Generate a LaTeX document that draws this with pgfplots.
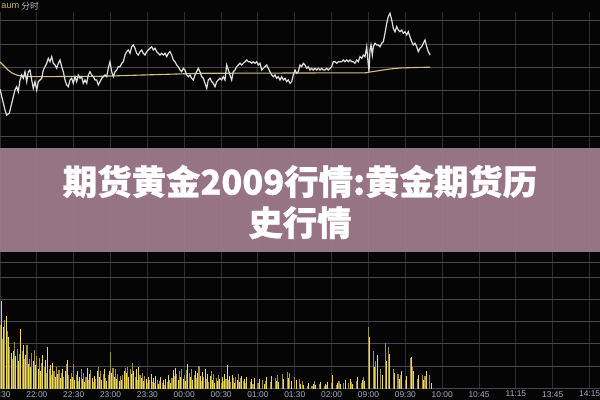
\documentclass[border=0pt]{standalone}
\usepackage{fontspec}
\usepackage{pgfplots}
\usepackage{pgfplotstable}
\pgfplotsset{compat=1.18}
\newfontfamily\cjk{Noto Sans CJK SC}[BoldFeatures={FakeBold=0.8}]
\newfontfamily\lab{Liberation Sans}

\definecolor{bg}{HTML}{050505}
\definecolor{vgrid}{HTML}{2E2E34}
\definecolor{hgrid}{HTML}{46464E}
\definecolor{pricec}{HTML}{E0E0E0}
\definecolor{avgc}{HTML}{CFC184}
\definecolor{bardark}{HTML}{A08F3E}
\definecolor{barlight}{HTML}{EDD95A}
\definecolor{banner}{HTML}{A27D8E}
\definecolor{labc}{HTML}{A3ADC0}
\definecolor{aumc}{HTML}{C9B25E}

% volume per minute, 21:30 onwards (pixel height of each bar)
\pgfplotstableread[row sep=\\, header=false]{
64\\88\\50\\62\\69\\73\\58\\52\\42\\36\\
30\\38\\47\\33\\40\\28\\35\\60\\38\\44\\
30\\34\\44\\25\\30\\22\\36\\28\\39\\24\\
33\\20\\31\\18\\26\\34\\22\\29\\16\\42\\
20\\24\\14\\26\\18\\12\\22\\15\\19\\11\\
16\\20\\12\\18\\25\\29\\14\\10\\16\\12\\
25\\9\\14\\18\\8\\12\\20\\10\\16\\7\\
12\\21\\9\\15\\19\\11\\7\\13\\10\\18\\
22\\12\\18\\9\\15\\20\\11\\8\\14\\18\\
37\\16\\21\\12\\20\\10\\15\\8\\13\\9\\
14\\18\\21\\16\\22\\12\\20\\15\\26\\18\\
12\\20\\9\\22\\14\\11\\16\\8\\13\\10\\
6\\12\\9\\15\\7\\11\\6\\13\\9\\5\\
8\\12\\6\\9\\4\\10\\7\\14\\9\\6\\
11\\19\\13\\21\\15\\9\\18\\12\\20\\10\\
14\\8\\19\\25\\16\\12\\20\\9\\14\\18\\
11\\16\\23\\13\\8\\17\\12\\20\\10\\15\\
7\\13\\18\\9\\15\\6\\11\\8\\14\\10\\
6\\12\\8\\15\\10\\24\\9\\13\\7\\14\\
11\\6\\12\\9\\15\\7\\11\\13\\8\\10\\
6\\12\\9\\14\\7\\10\\5\\11\\8\\13\\
6\\10\\7\\14\\9\\5\\8\\12\\6\\10\\
7\\13\\9\\5\\11\\8\\14\\7\\12\\9\\
15\\10\\6\\13\\17\\11\\16\\8\\19\\30\\
12\\9\\14\\6\\10\\5\\8\\4\\7\\5\\
3\\6\\4\\7\\3\\5\\8\\4\\6\\3\\
5\\7\\4\\6\\3\\5\\4\\7\\5\\8\\
6\\14\\5\\7\\4\\6\\8\\5\\7\\4\\
6\\9\\5\\8\\6\\10\\7\\5\\9\\6\\
8\\12\\7\\10\\6\\9\\12\\8\\13\\115\\
62\\52\\46\\32\\38\\22\\28\\34\\18\\25\\
20\\14\\22\\30\\46\\28\\42\\35\\32\\24\\
20\\16\\21\\12\\15\\10\\14\\18\\11\\15\\
9\\13\\22\\28\\31\\32\\22\\18\\12\\16\\
10\\14\\8\\12\\14\\9\\13\\18\\16\\10\\
14\\6\\
}\vol

\pgfplotsset{
    chartgrid/.style={
        scale only axis,
        width=300pt,
        xmin=0, xmax=600,
        axis line style={draw=none},
        tick style={draw=none},
        major tick length=0pt,
        grid=major,
        x grid style={vgrid, line width=0.5pt},
        y grid style={hgrid, line width=0.5pt},
        xtick={0,36.85,...,590},
    },
}

\begin{document}
\begin{tikzpicture}[x=0.5pt, y=-0.5pt]
    \fill[bg] (0,0) rectangle (600,400);

    % price panel (pixel rows 12 to 148)
    \begin{axis}[
            chartgrid,
            at={(0pt,-74pt)}, anchor=south west,
            height=68pt,
            ymin=12, ymax=148, y dir=reverse,
            ytick={21,44.2,67.4,90.6,113.8,137},
            xticklabels={}, yticklabels={},
        ]
        \addplot [avgc, line width=0.55pt] table {%
                0 62
                4 66
                8 70
                12 73
                18 75.5
                30 76.7
                100 76.3
                200 73.3
                300 73
                366 72.8
                370 72
                380 70.5
                390 69
                400 68
                415 67.5
                430 67.2
            };
        \addplot [pricec, line width=0.6pt] table {%
                0 89.3
                5 110
                6.7 115
                9.3 113.3
                11.7 103.3
                15 90
                16.7 86.7
                18.3 91.7
                20 80
                21.7 75
                23.3 78.3
                25 71.7
                26.7 81.7
                28.3 71.7
                30 70
                31.7 80
                33.3 88.3
                35 81.7
                36.7 90
                38.3 81.7
                40 80
                41.7 78.3
                43.3 70
                45 66.7
                46.7 63.3
                48.3 58.3
                50 61.7
                51.7 56.7
                53.3 63.3
                55 65
                56.7 68.3
                58.3 63.3
                60 60
                61.7 66.7
                63.3 71.7
                65 80
                66.7 85
                68.3 86.7
                70 80
                71.7 78.3
                73.3 83.3
                75 76.7
                76.7 81.7
                78.3 75
                80 78.3
                81.7 76.7
                83.3 83.3
                85 80
                86.7 83.3
                88.3 75
                90 71.7
                91.7 75
                93.3 76.7
                95 80
                96.7 80
                98.3 85
                100 81.7
                101.7 78.3
                103.3 76.7
                105 75
                106.7 76.7
                108.3 68.3
                110 61.7
                111.7 71.7
                113.3 76.7
                115 71.7
                116.7 70
                118.3 66.7
                120 66.7
                121.7 63.3
                123.3 61.7
                125 55
                126.7 51.7
                128.3 50
                130 53.3
                131.7 46.7
                133.3 45
                135 48.3
                136.7 53.3
                138.3 55
                140 51.7
                141.7 50
                143.3 53.3
                145 55
                146.7 51.7
                148.3 50
                150 48.3
                151.7 46.7
                153.3 50
                155 48.3
                156.7 51.7
                158.3 53.3
                160 55
                161.7 53.3
                163.3 55
                165 53.3
                166.7 56.7
                168.3 53.3
                170 51.7
                171.7 55
                173.3 60
                175 61.7
                176.7 65
                178.3 66.7
                180 70
                181.7 71.7
                183.3 68.3
                185 70
                186.7 75
                188.3 76.7
                190 75
                191.7 78.3
                193.3 80
                195 75
                196.7 71.7
                198.3 68.3
                200 71.7
                201.7 76.7
                203.3 78.3
                205 83.3
                206.7 88.3
                208.3 80
                210 78.3
                211.7 81.7
                213.3 83.3
                215 86.7
                216.7 81.7
                218.3 80
                220 78.3
                221.7 80
                223.3 76.7
                225 80
                226.7 65
                228.3 70
                230 75
                231.7 80
                233.3 71.7
                235 70
                236.7 66.7
                238.3 65
                240 63.3
                241.7 65
                243.3 63.3
                245 61.7
                246.7 60
                248.3 61.7
                250 61.7
                251.7 63.3
                253.3 61.7
                255 63.3
                256.7 61.7
                258.3 65
                260 63.3
                261.7 70
                263.3 68.3
                265 66.7
                266.7 65
                268.3 68.3
                270 71.7
                271.7 75
                273.3 76.7
                275 75
                276.7 78.3
                278.3 76.7
                280 80
                281.7 76.7
                283.3 80
                285 78.3
                286.7 81.7
                288.3 80
                290 83.3
                291.7 81.7
                293.3 75
                295 70
                296.7 73.3
                298.3 71.7
                300 65
                301.7 66.7
                303.3 63.3
                305 65
                306.7 68.3
                308.3 66.7
                310 70
                311.7 68.3
                313.3 70
                315 68.3
                316.7 70
                318.3 68.3
                320 70
                321.7 68.3
                323.3 70
                325 70
                326.7 68.3
                328.3 70
                330 68.3
                331.7 66.7
                333.3 61.7
                335 61.7
                336.7 63.3
                338.3 61.7
                340 61.7
                341.7 61.7
                343.3 60
                345 61.7
                346.7 60
                348.3 61.7
                350 60
                351.7 61.7
                353.3 61.7
                355 63.3
                356.7 60
                358.3 61.7
                360 56.7
                361.7 58.3
                363.3 55
                365 56.7
                366.7 46.7
                367.7 58.3
                369 71.7
                370 50
                371 45
                372.3 55
                373.3 46.7
                375 43.3
                376.7 45
                378.3 45
                380 46.7
                381.7 43.3
                383.3 41.7
                385 33.3
                386.7 23.3
                388.3 16.7
                390 13.3
                391.7 20
                393.3 28.3
                395 31.7
                396.7 26.7
                398.3 30
                400 31.7
                401.7 30
                403.3 33.3
                405 31.7
                406.7 35
                408.3 31.7
                410 36.7
                411.7 41.7
                413.3 45
                415 43.3
                416.7 46.7
                418.3 51.7
                420 48.3
                421.7 46.7
                423.3 43.3
                425 40
                426.7 46.7
                428.3 51.7
                430 55
            };
    \end{axis}

    % volume panel (pixel rows 148 to 389)
    \begin{axis}[
            chartgrid,
            at={(0pt,-194.5pt)}, anchor=south west,
            height=120.5pt,
            ymin=0, ymax=241,
            ytick={0,22,45,67,89,111,126},
            yticklabels={},
            xticklabels={21:30,22:00,22:30,23:00,23:30,00:00,00:30,01:00,01:30,02:00,09:00,09:30,10:00,10:45,11:15,13:45,14:15},
            xticklabel style={font=\lab\fontsize{4.2}{4.8}\selectfont, text=labc, inner sep=0.9pt},
        ]
        \addplot [ycomb, bardark, line width=0.55pt, mark=none,
            x filter/.expression={mod(\coordindex,2)==0 ? x : nan}]
        table [x expr=\coordindex*1.22833, y index=0] {\vol};
        \addplot [ycomb, barlight, line width=0.5pt, mark=none,
            x filter/.expression={mod(\coordindex,2)==1 ? x : nan}]
        table [x expr=\coordindex*1.22833, y index=0] {\vol};
    \end{axis}

    % header
    \node[anchor=west, inner sep=0pt, text=aumc, font=\lab\fontsize{4.6}{5}\selectfont] at (1,6) {aum};
    \node[anchor=west, inner sep=0pt, text=labc!80!white, font=\cjk\fontsize{4.4}{5}\selectfont] at (21,6) {分时};

    % title banner
    \fill[banner, fill opacity=0.93] (0,148) rectangle (600,252);
    \node[align=center, text=white, font=\cjk\bfseries\fontsize{17.2}{20.5}\selectfont] at (300,202)
        {期货黄金2009行情:黄金期货历\\史行情};

    \pgfresetboundingbox
    \useasboundingbox (0,0) rectangle (600,400);
\end{tikzpicture}
\end{document}
